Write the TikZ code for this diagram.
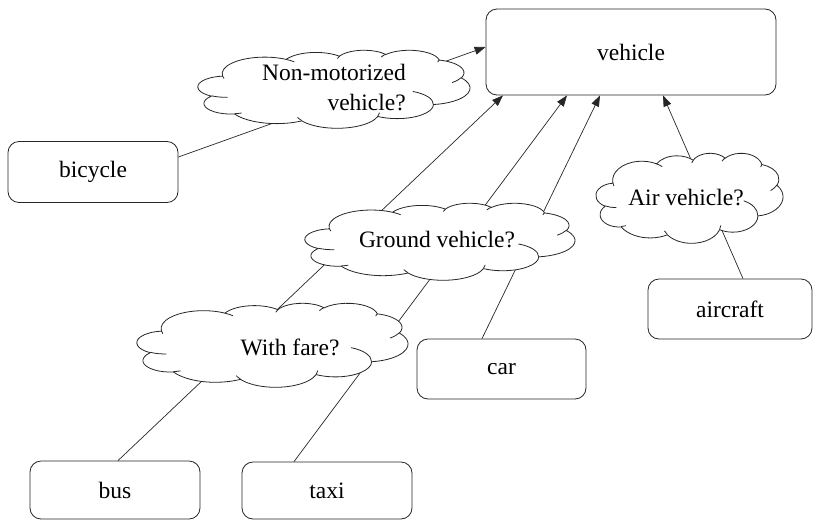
\documentclass[tikz,border=0pt]{standalone}
\usepackage{fontspec}
\setmainfont{Liberation Serif}
\usetikzlibrary{arrows.meta,calc,backgrounds}

% Cloud outline built from elliptical arcs on a 432 x 432 grid.
% Each arc is given by its start direction and sweep (degrees) on an
% ellipse with radii rx, ry; the direction is turned into the
% parametric angle that TikZ's arc operation expects.
\newcommand\cldpar[5]{% tag, start, sweep, rx, ry
  \pgfmathsetmacro\cldTs{atan2(sin(#2)*#4, cos(#2)*#5)}%
  \pgfmathsetmacro\cldTe{atan2(sin(#2+#3)*#4, cos(#2+#3)*#5)}%
  \pgfmathsetmacro\cldTd{\cldTe-\cldTs}%
  \pgfmathsetmacro\cldTd{\cldTd+360*round((#3-\cldTd)/360)}%
  \expandafter\global\expandafter\let\csname cldS#1\endcsname\cldTs
  \expandafter\global\expandafter\let\csname cldD#1\endcsname\cldTd}
% outline puffs
\cldpar{A}{-190.4875}{123.7805}{67.53}{91.90}
\cldpar{B}{-144.1024}{89.9452}{53.33}{72.67}
\cldpar{C}{-145.8079}{99.7230}{43.65}{59.45}
\cldpar{D}{-130.9861}{117.2417}{48.57}{65.95}
\cldpar{E}{-78.7089}{109.0269}{53.33}{72.73}
\cldpar{F}{-46.2673}{130.2690}{67.75}{92.20}
\cldpar{G}{0.6250}{114.0333}{57.85}{78.67}
\cldpar{H}{22.4516}{115.1726}{67.52}{92.15}
\cldpar{I}{66.2426}{75.7110}{77.20}{105.43}
\cldpar{J}{-274.9421}{146.7356}{43.60}{59.18}
\cldpar{K}{-246.8285}{152.5189}{43.45}{59.45}
% inner hooks between the puffs
\cldpar{a}{86.7420}{26.4295}{43.45}{59.45}
\cldpar{b}{73.6105}{11.4475}{43.60}{59.18}
\cldpar{c}{137.6242}{14.0811}{67.52}{92.15}
\cldpar{d}{6.4533}{15.9984}{67.52}{92.15}
\cldpar{e}{-70.2924}{70.9174}{57.85}{78.67}
\cldpar{f}{30.3180}{27.7515}{53.33}{72.73}
\cldpar{g}{13.7443}{14.8589}{48.57}{65.95}
\cldpar{h}{-149.1815}{18.1954}{48.57}{65.95}
\cldpar{i}{-163.4943}{17.6864}{43.65}{59.45}
\cldpar{j}{-66.7070}{12.3194}{67.53}{91.90}
\cldpar{k}{157.6544}{11.8582}{67.53}{91.90}

% \thoughtcloud{centre x}{centre y}{width}{height}
\newcommand\thoughtcloud[4]{%
  \pgfmathsetmacro\cldX{#1-#3/2}\pgfmathsetmacro\cldY{#2-#4/2}%
  \pgfmathsetmacro\cldW{#3/432}\pgfmathsetmacro\cldH{#4/432}%
  \begin{scope}[shift={(\cldX pt,-\cldY pt)},x=\cldW pt,y=-\cldH pt]
    \filldraw[cloudline,fill=white] (39.00,143.70)
      arc[start angle=\cldSA,delta angle=\cldDA,x radius=67.53,y radius=91.90]
      arc[start angle=\cldSB,delta angle=\cldDB,x radius=53.33,y radius=72.67]
      arc[start angle=\cldSC,delta angle=\cldDC,x radius=43.65,y radius=59.45]
      arc[start angle=\cldSD,delta angle=\cldDD,x radius=48.57,y radius=65.95]
      arc[start angle=\cldSE,delta angle=\cldDE,x radius=53.33,y radius=72.73]
      arc[start angle=\cldSF,delta angle=\cldDF,x radius=67.75,y radius=92.20]
      arc[start angle=\cldSG,delta angle=\cldDG,x radius=57.85,y radius=78.67]
      arc[start angle=\cldSH,delta angle=\cldDH,x radius=67.52,y radius=92.15]
      arc[start angle=\cldSI,delta angle=\cldDI,x radius=77.20,y radius=105.43]
      arc[start angle=\cldSJ,delta angle=\cldDJ,x radius=43.60,y radius=59.18]
      arc[start angle=\cldSK,delta angle=\cldDK,x radius=43.45,y radius=59.45]
      -- cycle;
    \draw[cloudline]
      (46.93,261.77) arc[start angle=\cldSa,delta angle=\cldDa,x radius=43.45,y radius=59.45]
      (69.28,348.99) arc[start angle=\cldSb,delta angle=\cldDb,x radius=43.60,y radius=59.18]
      (164.78,390.90) arc[start angle=\cldSc,delta angle=\cldDc,x radius=67.52,y radius=92.15]
      (288.27,347.51) arc[start angle=\cldSd,delta angle=\cldDd,x radius=67.52,y radius=92.15]
      (341.29,229.54) arc[start angle=\cldSe,delta angle=\cldDe,x radius=57.85,y radius=78.67]
      (417.98,153.54) arc[start angle=\cldSf,delta angle=\cldDf,x radius=53.33,y radius=72.73]
      (383.24,54.26) arc[start angle=\cldSg,delta angle=\cldDg,x radius=48.57,y radius=65.95]
      (290.78,39.52) arc[start angle=\cldSh,delta angle=\cldDh,x radius=48.57,y radius=65.95]
      (221.41,47.20) arc[start angle=\cldSi,delta angle=\cldDi,x radius=43.65,y radius=59.45]
      (140.00,51.92) arc[start angle=\cldSj,delta angle=\cldDj,x radius=67.53,y radius=91.90]
      (41.27,157.89) arc[start angle=\cldSk,delta angle=\cldDk,x radius=67.53,y radius=91.90];
  \end{scope}}

\begin{document}
\begin{tikzpicture}[x=1pt,y=-1pt,
  box/.style={draw=black!85,line width=0.8pt,rounded corners=11pt,fill=white,inner sep=0pt,
    font=\fontsize{23.5}{30}\selectfont},
  cloudline/.style={draw=black!85,line width=0.8pt},
  txt/.style={font=\fontsize{23.5}{30}\selectfont,inner sep=0pt},
  link/.style={draw=black!85,line width=0.7pt},
  arrow/.style={link,-{Triangle[length=11pt,width=8pt]}}]
\useasboundingbox (0,0) rectangle (814,520);

% class boxes
\node[box,minimum width=290pt,minimum height=86pt] (vehicle)  at (631,52)    {vehicle};
\node[box,minimum width=170pt,minimum height=61pt] (bicycle)  at (93,172)    {bicycle};
\node[box,minimum width=164pt,minimum height=60pt] (aircraft) at (730,309)   {aircraft};
\node[box,minimum width=169pt,minimum height=60pt] (car)      at (501.5,369) {car};
\node[box,minimum width=170pt,minimum height=58pt] (bus)      at (115,490)   {bus};
\node[box,minimum width=170pt,minimum height=57pt] (taxi)     at (327,490.5) {taxi};

% question clouds
\thoughtcloud{334}{89}{272}{78}
\thoughtcloud{440}{241.5}{270}{77}
\thoughtcloud{689.5}{198}{187}{90}
\thoughtcloud{272.5}{345}{271}{84}

\node[txt,align=right] (nmt) at (334,88)  {Non-motorized\\vehicle?};
\node[txt]             (gvt) at (437,240) {Ground vehicle?};
\node[txt]             (avt) at (686,198) {Air vehicle?};
\node[txt]             (wft) at (290,347) {With fare?};

% generalisation links, passing behind the clouds
\begin{scope}[on background layer]
  \draw[arrow] ($(bicycle.east)+(0,-15)$)  -- ($(vehicle.west)+(0,-5)$);
  \draw[arrow] ($(bus.north)+(3,0)$)       -- ($(vehicle.south)+(-128,0)$);
  \draw[arrow] ($(taxi.north)+(-33,0)$)    -- ($(vehicle.south)+(-64,0)$);
  \draw[arrow] ($(car.north)+(-19.5,0)$)   -- ($(vehicle.south)+(-31,0)$);
  \draw[arrow] ($(aircraft.north)+(13,0)$) -- ($(vehicle.south)+(32,0)$);
\end{scope}
\end{tikzpicture}
\end{document}
